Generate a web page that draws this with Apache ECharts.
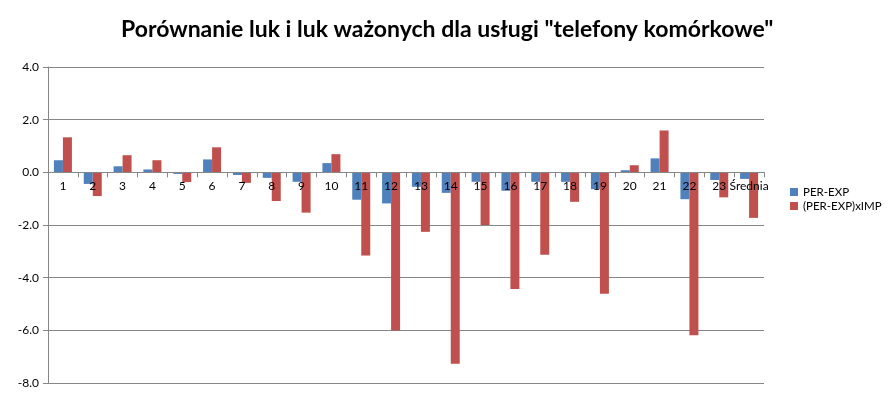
<!DOCTYPE html>
<html>
<head>
<meta charset="utf-8">
<script src="https://cdn.jsdelivr.net/npm/echarts@6/dist/echarts.min.js"></script>
<style>
  html, body { margin: 0; padding: 0; background: #fff; }
  #chart { width: 894px; height: 398px; }
</style>
</head>
<body>
<div id="chart"></div>
<script>
// categories (service attributes) + average
const categories = ['1', '2', '3', '4', '5', '6', '7', '8', '9', '10', '11', '12',
  '13', '14', '15', '16', '17', '18', '19', '20', '21', '22', '23', 'Średnia']
const gapValues = [0.46, -0.44, 0.23, 0.11, -0.06, 0.49, -0.10, -0.21, -0.36, 0.35, -1.04, -1.18,
  -0.55, -0.78, -0.36, -0.70, -0.36, -0.36, -0.64, 0.08, 0.53, -1.02, -0.29, -0.25]
const weightedValues = [1.33, -0.90, 0.65, 0.46, -0.37, 0.95, -0.40, -1.09, -1.53, 0.69, -3.16, -6.01,
  -2.26, -7.27, -2.00, -4.43, -3.13, -1.12, -4.61, 0.27, 1.59, -6.19, -0.95, -1.73]
const seriesNames = ['PER-EXP', '(PER-EXP)xIMP']
const yMin = -8
const yMax = 4

const gray = '#868686'
const gridTop = 67
const gridBottom = 15
const plotHeight = 398 - gridTop - gridBottom
// move the category axis up to the zero line
const zeroOffset = -plotHeight * (0 - yMin) / (yMax - yMin)

const chart = echarts.init(document.getElementById('chart'))

const option = {
  animation: false,
  textStyle: { fontFamily: 'Lato' },
  title: {
    text: 'Porównanie luk i luk ważonych dla usługi "telefony komórkowe"',
    left: 116,
    top: 13,
    textStyle: { fontFamily: 'Lato', fontSize: 23, fontWeight: 'bold', color: '#000' }
  },
  legend: {
    orient: 'vertical',
    left: 785,
    top: 181,
    icon: 'rect',
    itemWidth: 8,
    itemHeight: 8,
    itemGap: 2,
    itemTextGap: 5,
    textStyle: { fontSize: 11.5, color: '#000' },
    data: seriesNames
  },
  grid: { left: 48, right: 130, top: gridTop, bottom: gridBottom, outerBoundsMode: 'none', containLabel: false },
  xAxis: {
    type: 'category',
    data: categories,
    position: 'bottom',
    offset: zeroOffset,
    z: 5,
    axisLine: { onZero: false, lineStyle: { color: gray } },
    axisTick: { show: true, length: 5, lineStyle: { color: gray } },
    axisLabel: { interval: 0, margin: 8, fontSize: 12, color: '#000' }
  },
  yAxis: {
    type: 'value',
    min: yMin,
    max: yMax,
    interval: 2,
    axisLine: { show: true, lineStyle: { color: gray } },
    axisTick: { show: true, length: 5, lineStyle: { color: gray } },
    splitLine: { lineStyle: { color: gray } },
    axisLabel: {
      fontSize: 12,
      color: '#000',
      margin: 9,
      formatter: (v) => v.toFixed(1)
    }
  },
  series: [
    {
      name: seriesNames[0],
      type: 'bar',
      data: gapValues,
      barWidth: 9,
      barGap: '0%',
      itemStyle: { color: '#4F81BD' }
    },
    {
      name: seriesNames[1],
      type: 'bar',
      data: weightedValues,
      barWidth: 9,
      barGap: '0%',
      itemStyle: { color: '#C0504D' }
    }
  ]
}
chart.setOption(option)
</script>
</body>
</html>
